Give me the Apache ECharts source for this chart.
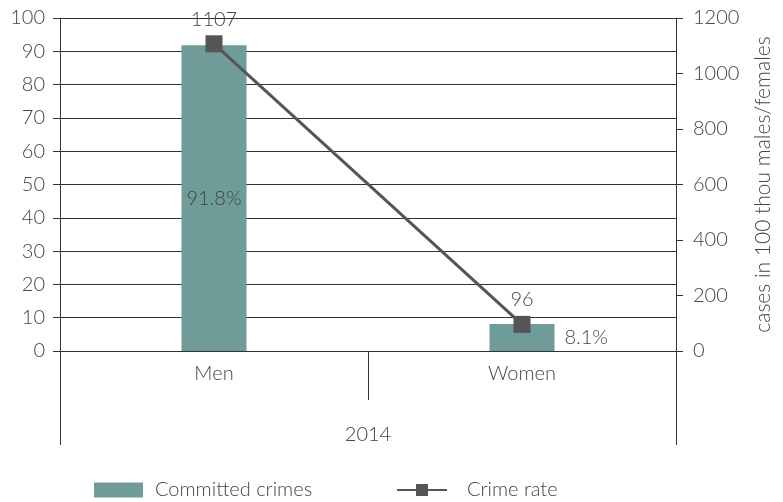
<!DOCTYPE html>
<html>
<head>
<meta charset="utf-8">
<script src="https://cdn.jsdelivr.net/npm/echarts@6/dist/echarts.min.js"></script>
<style>html,body{margin:0;padding:0;background:#fff}#c{width:783px;height:502px}</style>
</head>
<body>
<div id="c"></div>
<script>
var categories = ['Men', 'Women'];
var groupLabels = ['2014'];
var committedShare = [91.8, 8.1];
var crimeRate = [1107, 96];
var seriesNames = ['Committed crimes', 'Crime rate'];
var rightAxisName = 'cases in 100 thou males/females';

var FONT = 'Lato';
var TXT = '#444';
var LINE = '#333';
var FS = 20;

function txt(extra) {
  var o = {fontFamily: FONT, fontWeight: 300, fontSize: FS, color: TXT};
  for (var k in extra) o[k] = extra[k];
  return o;
}

var chart = echarts.init(document.getElementById('c'));
chart.setOption({
  animation: false,
  textStyle: {fontFamily: FONT, fontWeight: 300},
  grid: {left: 60, right: 107, top: 18, bottom: 151, containLabel: false, outerBoundsMode: 'none'},
  legend: [{
    top: 480, left: 94, padding: 0, itemWidth: 49, itemHeight: 15,
    textStyle: txt({padding: [0, 0, 0, 7]}),
    data: [{name: seriesNames[0], icon: 'rect'}]
  }, {
    top: 480, left: 396, padding: 0, itemWidth: 50, itemHeight: 15,
    textStyle: txt({padding: [0, 0, 0, 15]}),
    data: [{name: seriesNames[1]}]
  }],
  xAxis: [{
    type: 'category', data: categories, position: 'bottom',
    axisLine: {show: true, lineStyle: {color: LINE, width: 1}},
    axisTick: {show: true, length: 49, lineStyle: {color: LINE}},
    axisLabel: txt({margin: 13})
  }, {
    type: 'category', data: groupLabels, position: 'bottom',
    axisLine: {show: false},
    axisTick: {show: true, length: 94, lineStyle: {color: LINE}},
    axisLabel: txt({margin: 74})
  }],
  yAxis: [{
    type: 'value', min: 0, max: 100, interval: 10, position: 'left',
    axisLine: {show: true, lineStyle: {color: LINE}},
    axisTick: {show: true, length: 7, lineStyle: {color: LINE}},
    axisLabel: txt({margin: 15}),
    splitLine: {show: true, lineStyle: {color: LINE, width: 1}}
  }, {
    type: 'value', min: 0, max: 1200, interval: 200, position: 'right',
    name: rightAxisName, nameLocation: 'middle', nameGap: 77,
    nameTextStyle: txt({fontSize: 21}),
    axisLine: {show: true, lineStyle: {color: LINE}},
    axisTick: {show: true, length: 7, lineStyle: {color: LINE}},
    axisLabel: txt({margin: 17, formatter: function (v) { return String(v); }}),
    splitLine: {show: false}
  }],
  series: [{
    name: seriesNames[0], type: 'bar', xAxisIndex: 0, yAxisIndex: 0,
    data: committedShare.map(function (v, i) {
      return {value: v, label: {position: i === 0 ? 'inside' : 'right'}};
    }),
    barWidth: 65,
    itemStyle: {color: '#6f9c98'},
    label: txt({show: true, formatter: '{c}%', distance: 10})
  }, {
    name: seriesNames[1], type: 'line', xAxisIndex: 0, yAxisIndex: 1,
    data: crimeRate,
    symbol: 'rect', symbolSize: 17,
    lineStyle: {color: '#555', width: 3},
    itemStyle: {color: '#555'},
    label: txt({show: true, position: 'top', distance: 6})
  }]
});
</script>
</body>
</html>
